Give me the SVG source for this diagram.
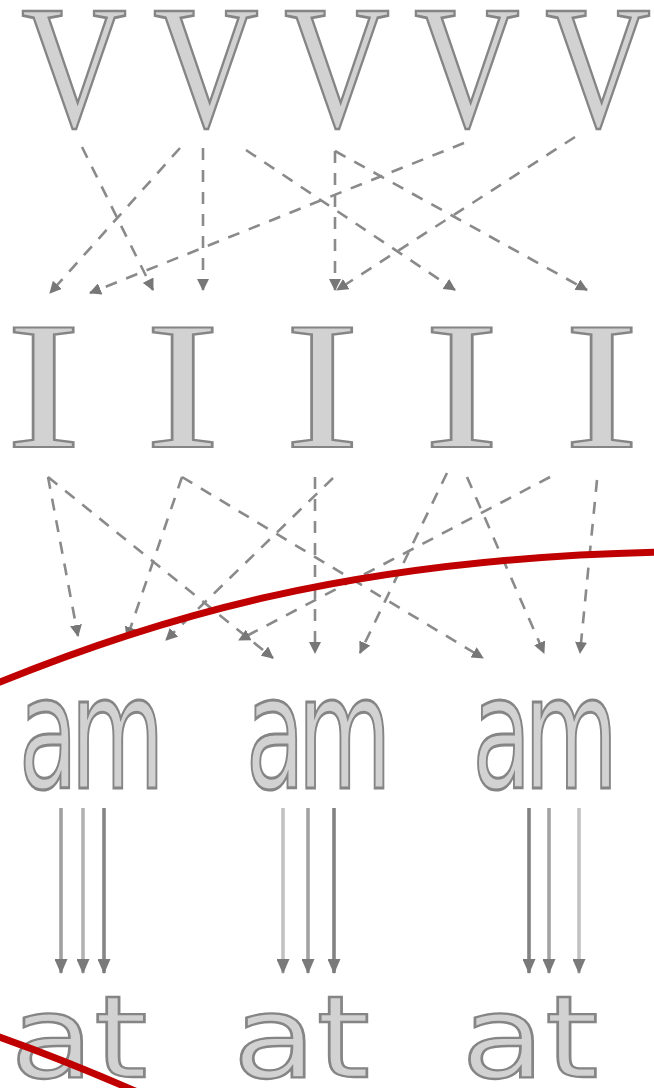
<svg xmlns="http://www.w3.org/2000/svg" width="654" height="1088" viewBox="0 0 654 1088">
  <style>
    .glyph { fill: #d2d2d2; stroke: #858585; stroke-width: 2.5; vector-effect: non-scaling-stroke; }
    .serif { font-family: "Liberation Serif", "Times New Roman", serif; }
    .sans { font-family: "DejaVu Sans", Verdana, sans-serif; }
    .tight { letter-spacing: -12px; }
    .dash { fill: none; stroke: #8a8a8a; stroke-width: 2.6; stroke-dasharray: 12 10; marker-end: url(#headDash); }
    .solid { fill: none; stroke-width: 3.6; marker-end: url(#headSolid); }
    .mark { fill: none; stroke: #c00000; stroke-width: 7; stroke-linecap: round; }
  </style>
  <defs>
    <marker id="headDash" viewBox="0 0 12 12" refX="11" refY="6" markerWidth="12" markerHeight="12" markerUnits="userSpaceOnUse" orient="auto">
      <path d="M0,0 L12,6 L0,12 z" fill="#777"/>
    </marker>
    <marker id="headSolid" viewBox="0 0 15 13" refX="14" refY="6.5" markerWidth="15" markerHeight="13" markerUnits="userSpaceOnUse" orient="auto">
      <path d="M0,0 L15,6.5 L0,13 z" fill="#7a7a7a"/>
    </marker>
  </defs>

  <rect width="654" height="1088" fill="#ffffff"/>

  <!-- row 1: V -->
  <g id="v1"><text class="glyph serif" font-size="176" text-anchor="middle" transform="translate(74,125.5) scale(0.83,1)">V</text></g>
  <g id="v2"><text class="glyph serif" font-size="176" text-anchor="middle" transform="translate(206,125.5) scale(0.83,1)">V</text></g>
  <g id="v3"><text class="glyph serif" font-size="176" text-anchor="middle" transform="translate(337,125.5) scale(0.83,1)">V</text></g>
  <g id="v4"><text class="glyph serif" font-size="176" text-anchor="middle" transform="translate(467,125.5) scale(0.83,1)">V</text></g>
  <g id="v5"><text class="glyph serif" font-size="176" text-anchor="middle" transform="translate(598,125.5) scale(0.83,1)">V</text></g>

  <!-- row 2: I -->
  <g id="i1"><text class="glyph serif" font-size="182" text-anchor="middle" transform="translate(43.5,447) scale(1.24,1)">I</text></g>
  <g id="i2"><text class="glyph serif" font-size="182" text-anchor="middle" transform="translate(182.5,447) scale(1.24,1)">I</text></g>
  <g id="i3"><text class="glyph serif" font-size="182" text-anchor="middle" transform="translate(322,447) scale(1.24,1)">I</text></g>
  <g id="i4"><text class="glyph serif" font-size="182" text-anchor="middle" transform="translate(461.5,447) scale(1.24,1)">I</text></g>
  <g id="i5"><text class="glyph serif" font-size="182" text-anchor="middle" transform="translate(601.5,447) scale(1.24,1)">I</text></g>

  <!-- row 3: am (condensed, tight spacing) -->
  <g id="am1"><text class="glyph sans tight" font-size="157" text-anchor="middle" transform="translate(88,788) scale(0.615,1)">am</text></g>
  <g id="am2"><text class="glyph sans tight" font-size="157" text-anchor="middle" transform="translate(315,788) scale(0.615,1)">am</text></g>
  <g id="am3"><text class="glyph sans tight" font-size="157" text-anchor="middle" transform="translate(541.5,788) scale(0.615,1)">am</text></g>

  <!-- row 4: at -->
  <g id="at1"><text class="glyph sans" font-size="114" text-anchor="middle" transform="translate(79,1077) scale(1.2,1)">at</text></g>
  <g id="at2"><text class="glyph sans" font-size="114" text-anchor="middle" transform="translate(301.5,1077) scale(1.2,1)">at</text></g>
  <g id="at3"><text class="glyph sans" font-size="114" text-anchor="middle" transform="translate(530,1077) scale(1.2,1)">at</text></g>

  <g id="connectors">
    <!-- V to I -->
    <line class="dash" x1="82" y1="147" x2="153" y2="290"/>
    <line class="dash" x1="180" y1="148" x2="50" y2="293"/>
    <line class="dash" x1="203" y1="148" x2="203" y2="290"/>
    <line class="dash" x1="246" y1="150" x2="455" y2="290"/>
    <line class="dash" x1="464" y1="143" x2="90" y2="293"/>
    <line class="dash" x1="335" y1="151" x2="335" y2="290"/>
    <line class="dash" x1="335" y1="151" x2="587" y2="290"/>
    <line class="dash" x1="575" y1="137" x2="337" y2="290"/>

    <!-- I to am -->
    <line class="dash" x1="48" y1="477" x2="78" y2="636"/>
    <line class="dash" x1="48" y1="477" x2="273" y2="658"/>
    <line class="dash" x1="182" y1="477" x2="127" y2="638"/>
    <line class="dash" x1="182" y1="477" x2="483" y2="658"/>
    <line class="dash" x1="333" y1="478" x2="166" y2="640"/>
    <line class="dash" x1="315" y1="477" x2="315" y2="653"/>
    <line class="dash" x1="550" y1="477" x2="239" y2="640"/>
    <line class="dash" x1="447" y1="473" x2="360" y2="653"/>
    <line class="dash" x1="467" y1="477" x2="544" y2="653"/>
    <line class="dash" x1="597" y1="480" x2="580" y2="653"/>

    <!-- am to at -->
    <line class="solid" stroke="#a0a0a0" x1="61" y1="808" x2="61" y2="973"/>
    <line class="solid" stroke="#b2b2b2" x1="83" y1="808" x2="83" y2="973"/>
    <line class="solid" stroke="#868686" x1="104" y1="808" x2="104" y2="973"/>
    <line class="solid" stroke="#c2c2c2" x1="283" y1="808" x2="283" y2="973"/>
    <line class="solid" stroke="#a2a2a2" x1="308" y1="808" x2="308" y2="973"/>
    <line class="solid" stroke="#828282" x1="334" y1="808" x2="334" y2="973"/>
    <line class="solid" stroke="#828282" x1="529" y1="808" x2="529" y2="973"/>
    <line class="solid" stroke="#a2a2a2" x1="549" y1="808" x2="549" y2="973"/>
    <line class="solid" stroke="#c2c2c2" x1="579" y1="808" x2="579" y2="973"/>
  </g>

  <!-- red strokes drawn over the figure -->
  <g id="red-mark">
    <path class="mark" d="M-12,687 C150,620 350,558 664,552"/>
    <path class="mark" d="M-12,1033 Q60,1058 142,1094"/>
  </g>
</svg>
